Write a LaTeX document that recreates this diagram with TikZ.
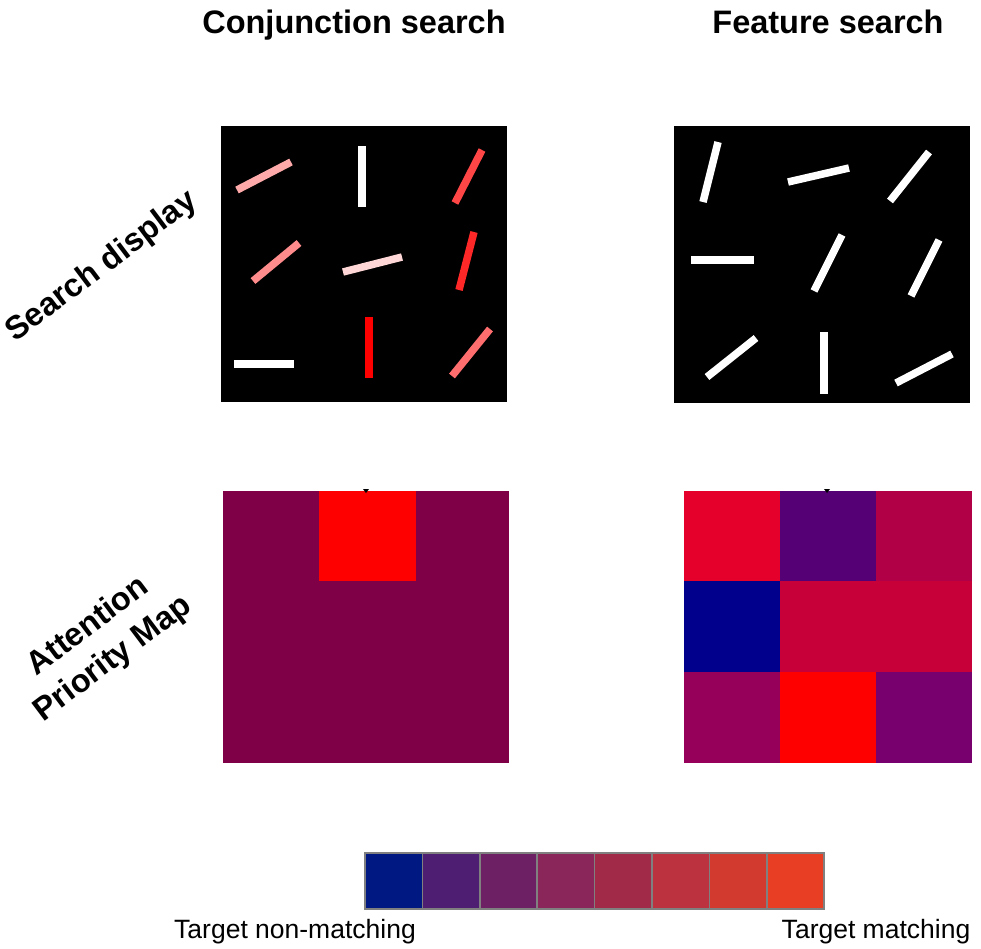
\documentclass[tikz,border=0pt]{standalone}
\usepackage{fontspec}
\setmainfont{Liberation Sans}
\definecolor{MapBase}{RGB}{127,0,70}
\definecolor{MapRed}{RGB}{255,0,0}
\definecolor{MapA}{RGB}{228,0,43}
\definecolor{MapB}{RGB}{85,0,117}
\definecolor{MapC}{RGB}{178,0,70}
\definecolor{MapD}{RGB}{0,0,140}
\definecolor{MapE}{RGB}{200,0,58}
\definecolor{MapF}{RGB}{150,0,90}
\definecolor{MapG}{RGB}{120,0,110}
\definecolor{cb1}{RGB}{0,25,130}
\definecolor{cb2}{RGB}{78,30,115}
\definecolor{cb3}{RGB}{110,32,100}
\definecolor{cb4}{RGB}{138,38,90}
\definecolor{cb5}{RGB}{160,42,72}
\definecolor{cb6}{RGB}{188,50,62}
\definecolor{cb7}{RGB}{210,58,48}
\definecolor{cb8}{RGB}{232,62,36}
\usetikzlibrary{positioning}
\tikzset{
    title/.style={font=\fontsize{32.5}{40}\selectfont\bfseries,inner sep=0pt},
    rowlabel/.style={font=\fontsize{32.5}{41}\selectfont\bfseries,inner sep=0pt,align=center,rotate=37},
    scalelabel/.style={font=\fontsize{26.5}{32}\selectfont,inner sep=0pt,anchor=base},
    panel/.style={fill=black,inner sep=0pt,minimum width=#1},
    bar/.style={line width=7.5pt,line cap=butt},
    cell/.style={draw=gray,line width=1.5pt,inner sep=0pt,minimum width=57.4pt,minimum height=56pt},
}

\begin{document}
\begin{tikzpicture}[x=1pt,y=-1pt]
        \useasboundingbox (0,0) rectangle (981,948);
        % column and row titles
        \node[title,anchor=base] (conjtitle) at (354,33) {Conjunction search};
        \node[title,anchor=base] (feattitle) at (828,33) {Feature search};
        \node[rowlabel] (displabel) at (102,267) {Search display};
        \node[rowlabel] (maplabel) at (101,643) {Attention\\Priority Map};

        % search displays
        \node[panel=286pt,minimum height=276pt] (conjdisp) at (364,264) {};
        \node[panel=296pt,minimum height=277pt] (featdisp) at (822,264.5) {};
        \draw[bar,color={rgb,255:red,255;green,170;blue,170}] (237,190) -- (291,162);
        \draw[bar,white] (362,146) -- (362,207);
        \draw[bar,color={rgb,255:red,255;green,70;blue,70}] (455,203) -- (482,150);
        \draw[bar,color={rgb,255:red,255;green,140;blue,140}] (253,281) -- (299,243);
        \draw[bar,color={rgb,255:red,255;green,215;blue,215}] (343,272) -- (402,257);
        \draw[bar,color={rgb,255:red,255;green,40;blue,40}] (459,290) -- (474,232);
        \draw[bar,white] (234,364) -- (294,364);
        \draw[bar,MapRed] (369,317) -- (369,378);
        \draw[bar,color={rgb,255:red,255;green,110;blue,110}] (452,376) -- (490,329);
        \begin{scope}[bar,white]
            \draw (703,202) -- (718,142);
            \draw (788,182) -- (849,168);
            \draw (890,201) -- (929,152);
            \draw (691,260) -- (754,260);
            \draw (814,291) -- (842,235);
            \draw (911,296) -- (939,240);
            \draw (707,377) -- (756,338);
            \draw (824,332) -- (824,394);
            \draw (896,383) -- (952,354);
        \end{scope}

        % attention priority maps
        \fill[MapBase] (223,491) rectangle (509,763);
        \fill[MapRed] (319,491) rectangle (416,581);
        \fill[black] (363,489) -- (369,489) -- (366,493) -- cycle;
        \fill[MapA] (684,491) rectangle (780,581);
        \fill[MapB] (780,491) rectangle (876,581);
        \fill[MapC] (876,491) rectangle (972,581);
        \fill[MapD] (684,581) rectangle (780,672);
        \fill[MapE] (780,581) rectangle (972,672);
        \fill[MapF] (684,672) rectangle (780,763);
        \fill[MapRed] (780,672) rectangle (876,763);
        \fill[MapG] (876,672) rectangle (972,763);
        \fill[black] (824,489) -- (830,489) -- (827,493) -- cycle;

        % colour scale
        \foreach \i in {1,...,8}
            \node[cell,fill=cb\i] (cb\i) at ({365+(\i-0.5)*57.4},881) {};
        \node[scalelabel] (nonmatch) at (295,938) {Target non-matching};
        \node[scalelabel] (match) at (876,938) {Target matching};
    \end{tikzpicture}
\end{document}
